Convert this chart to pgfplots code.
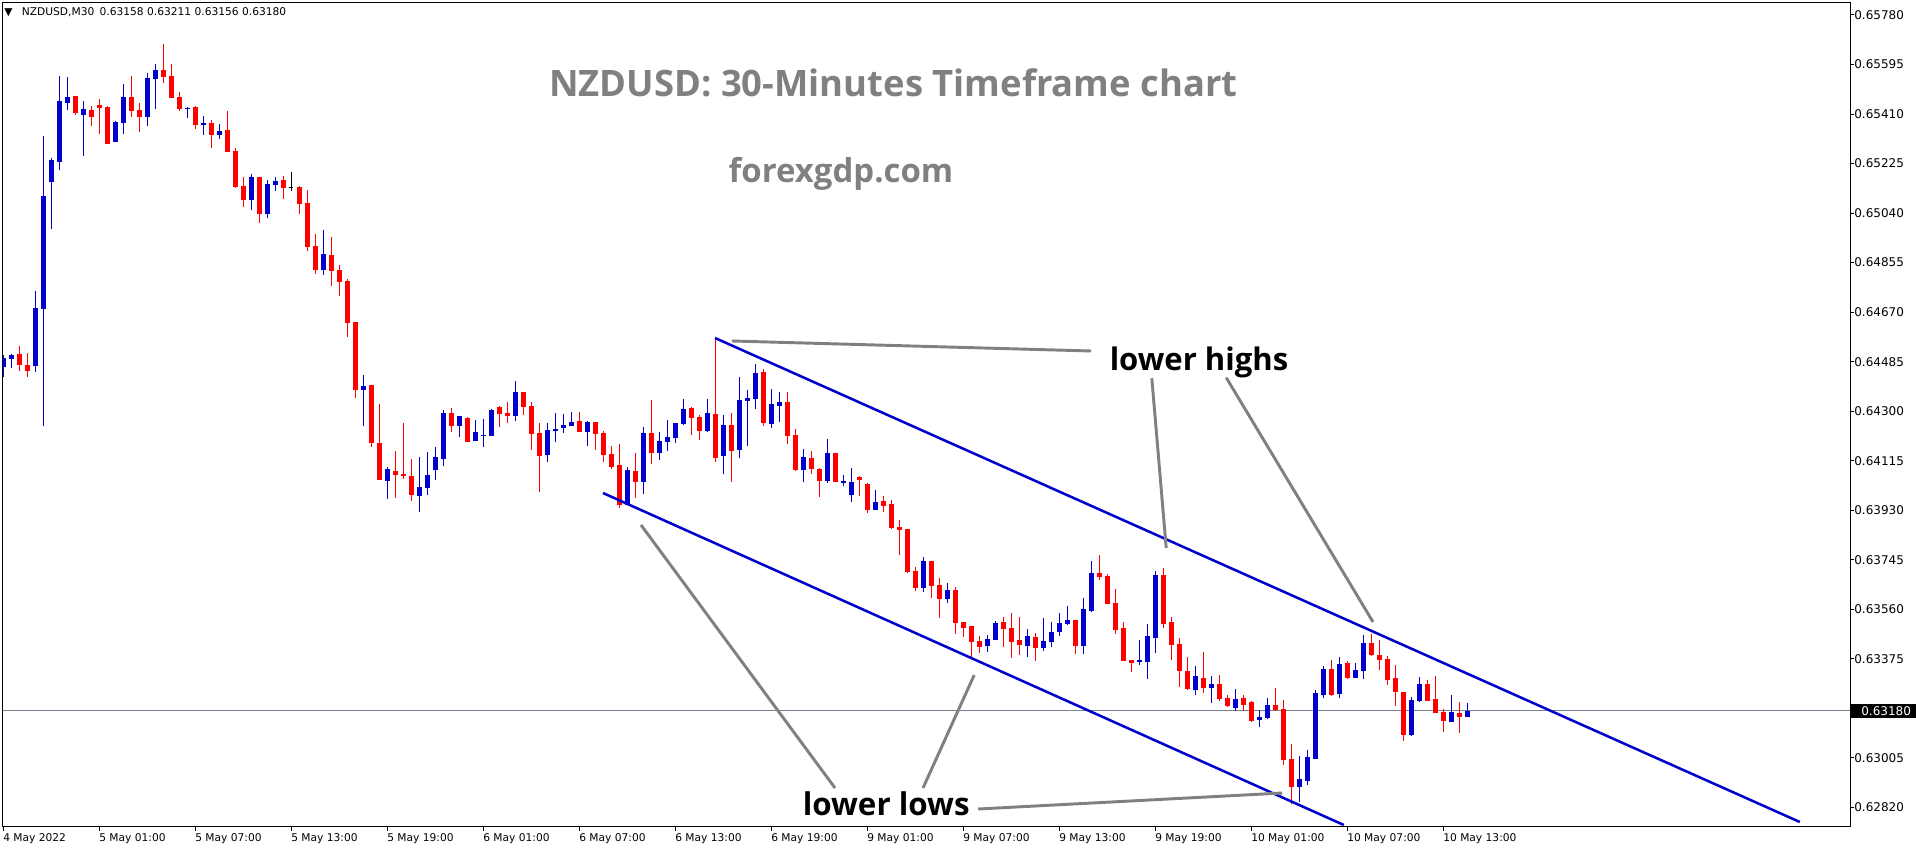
\documentclass[border=0pt]{standalone}
\usepackage{pgfplots}
\pgfplotsset{compat=1.18}
\usepackage{pgfplotstable}
\usepackage{fontspec}
\setmainfont{DejaVu Sans}
\newfontfamily\annfont{Open Sans}
\definecolor{mtblue}{RGB}{0,0,205}
\definecolor{mtred}{RGB}{255,0,0}
\definecolor{anngray}{RGB}{128,128,128}
\definecolor{lvl}{RGB}{120,130,145}

% NZDUSD M30 candles: index, open, high, low, close
\pgfplotstableread{
i o h l c
0 0.64464 0.64510 0.64427 0.64498
1 0.64496 0.64514 0.64463 0.64509
2 0.64514 0.64544 0.64451 0.64474
3 0.64473 0.64519 0.64429 0.64451
4 0.64470 0.64749 0.64448 0.64686
5 0.64681 0.65328 0.64246 0.65104
6 0.65157 0.65246 0.64982 0.65238
7 0.65232 0.65552 0.65202 0.65459
8 0.65453 0.65548 0.65425 0.65474
9 0.65477 0.65477 0.65408 0.65415
10 0.65408 0.65459 0.65255 0.65429
11 0.65425 0.65440 0.65367 0.65400
12 0.65444 0.65466 0.65337 0.65434
13 0.65436 0.65439 0.65299 0.65299
14 0.65307 0.65384 0.65307 0.65380
15 0.65378 0.65522 0.65337 0.65474
16 0.65474 0.65552 0.65400 0.65423
17 0.65425 0.65451 0.65344 0.65400
18 0.65400 0.65563 0.65367 0.65545
19 0.65542 0.65597 0.65430 0.65575
20 0.65575 0.65672 0.65527 0.65550
21 0.65552 0.65597 0.65471 0.65471
22 0.65474 0.65492 0.65423 0.65430
23 0.65430 0.65436 0.65397 0.65434
24 0.65436 0.65440 0.65355 0.65370
25 0.65370 0.65403 0.65333 0.65377
26 0.65377 0.65388 0.65284 0.65333
27 0.65333 0.65373 0.65318 0.65347
28 0.65350 0.65421 0.65270 0.65270
29 0.65272 0.65283 0.65135 0.65139
30 0.65141 0.65175 0.65064 0.65090
31 0.65090 0.65186 0.65053 0.65175
32 0.65175 0.65175 0.65004 0.65038
33 0.65038 0.65164 0.65023 0.65149
34 0.65146 0.65175 0.65124 0.65160
35 0.65164 0.65179 0.65094 0.65135
36 0.65137 0.65194 0.65124 0.65137
37 0.65137 0.65141 0.65038 0.65075
38 0.65078 0.65126 0.64900 0.64915
39 0.64917 0.64963 0.64814 0.64829
40 0.64827 0.64977 0.64809 0.64887
41 0.64883 0.64951 0.64768 0.64824
42 0.64827 0.64846 0.64730 0.64783
43 0.64786 0.64794 0.64577 0.64629
44 0.64633 0.64633 0.64351 0.64379
45 0.64379 0.64435 0.64245 0.64394
46 0.64398 0.64398 0.64166 0.64181
47 0.64181 0.64327 0.64043 0.64043
48 0.64039 0.64092 0.63972 0.64084
49 0.64077 0.64151 0.63976 0.64062
50 0.64065 0.64256 0.64047 0.64058
51 0.64058 0.64121 0.63964 0.63987
52 0.63983 0.64129 0.63923 0.64017
53 0.64013 0.64147 0.63987 0.64062
54 0.64080 0.64166 0.64043 0.64129
55 0.64121 0.64304 0.64095 0.64293
56 0.64293 0.64312 0.64222 0.64245
57 0.64245 0.64282 0.64204 0.64282
58 0.64275 0.64278 0.64185 0.64185
59 0.64189 0.64267 0.64189 0.64222
60 0.64207 0.64271 0.64166 0.64211
61 0.64207 0.64308 0.64207 0.64304
62 0.64316 0.64319 0.64241 0.64289
63 0.64293 0.64334 0.64256 0.64282
64 0.64282 0.64413 0.64263 0.64372
65 0.64372 0.64372 0.64286 0.64316
66 0.64319 0.64334 0.64155 0.64215
67 0.64219 0.64256 0.63998 0.64133
68 0.64136 0.64256 0.64110 0.64230
69 0.64226 0.64293 0.64185 0.64233
70 0.64237 0.64289 0.64219 0.64248
71 0.64245 0.64297 0.64245 0.64260
72 0.64263 0.64297 0.64222 0.64222
73 0.64222 0.64263 0.64170 0.64260
74 0.64260 0.64260 0.64155 0.64215
75 0.64219 0.64226 0.64110 0.64136
76 0.64140 0.64170 0.64084 0.64092
77 0.64099 0.64177 0.63938 0.63950
78 0.63950 0.64092 0.63950 0.64080
79 0.64077 0.64144 0.63976 0.64035
80 0.64035 0.64241 0.63991 0.64219
81 0.64219 0.64342 0.64103 0.64144
82 0.64144 0.64222 0.64118 0.64189
83 0.64185 0.64267 0.64151 0.64204
84 0.64200 0.64256 0.64181 0.64256
85 0.64252 0.64346 0.64248 0.64308
86 0.64312 0.64315 0.64211 0.64275
87 0.64278 0.64286 0.64192 0.64226
88 0.64226 0.64346 0.64222 0.64293
89 0.64290 0.64573 0.64110 0.64125
90 0.64133 0.64286 0.64065 0.64248
91 0.64248 0.64293 0.64035 0.64151
92 0.64155 0.64428 0.64125 0.64342
93 0.64338 0.64379 0.64170 0.64349
94 0.64346 0.64476 0.64308 0.64443
95 0.64446 0.64458 0.64244 0.64256
96 0.64252 0.64383 0.64237 0.64327
97 0.64319 0.64372 0.64260 0.64334
98 0.64334 0.64372 0.64177 0.64207
99 0.64211 0.64233 0.64077 0.64080
100 0.64080 0.64159 0.64035 0.64129
101 0.64125 0.64151 0.64065 0.64084
102 0.64084 0.64088 0.63979 0.64039
103 0.64039 0.64196 0.64032 0.64144
104 0.64144 0.64144 0.64035 0.64035
105 0.64032 0.64062 0.64021 0.64039
106 0.63987 0.64088 0.63961 0.64035
107 0.64054 0.64058 0.63983 0.64043
108 0.64028 0.64032 0.63920 0.63931
109 0.63931 0.64006 0.63931 0.63961
110 0.63965 0.63983 0.63923 0.63946
111 0.63953 0.63968 0.63860 0.63864
112 0.63867 0.63894 0.63763 0.63856
113 0.63860 0.63860 0.63696 0.63699
114 0.63703 0.63718 0.63628 0.63639
115 0.63639 0.63755 0.63625 0.63740
116 0.63740 0.63740 0.63602 0.63647
117 0.63651 0.63677 0.63527 0.63598
118 0.63598 0.63658 0.63583 0.63632
119 0.63632 0.63643 0.63468 0.63509
120 0.63512 0.63512 0.63456 0.63490
121 0.63498 0.63498 0.63378 0.63438
122 0.63441 0.63460 0.63397 0.63419
123 0.63423 0.63464 0.63400 0.63449
124 0.63445 0.63516 0.63445 0.63509
125 0.63512 0.63531 0.63419 0.63486
126 0.63490 0.63546 0.63378 0.63438
127 0.63445 0.63531 0.63389 0.63427
128 0.63423 0.63486 0.63382 0.63460
129 0.63456 0.63471 0.63367 0.63415
130 0.63415 0.63527 0.63404 0.63441
131 0.63438 0.63512 0.63419 0.63475
132 0.63475 0.63546 0.63460 0.63509
133 0.63505 0.63572 0.63501 0.63520
134 0.63520 0.63520 0.63393 0.63423
135 0.63423 0.63602 0.63393 0.63561
136 0.63553 0.63740 0.63550 0.63696
137 0.63696 0.63763 0.63669 0.63681
138 0.63684 0.63692 0.63580 0.63580
139 0.63583 0.63636 0.63468 0.63483
140 0.63490 0.63512 0.63367 0.63367
141 0.63370 0.63370 0.63326 0.63359
142 0.63363 0.63445 0.63352 0.63370
143 0.63363 0.63505 0.63300 0.63460
144 0.63453 0.63703 0.63397 0.63688
145 0.63688 0.63714 0.63490 0.63505
146 0.63512 0.63531 0.63370 0.63427
147 0.63430 0.63453 0.63270 0.63329
148 0.63329 0.63382 0.63258 0.63262
149 0.63258 0.63348 0.63240 0.63311
150 0.63303 0.63400 0.63247 0.63266
151 0.63266 0.63311 0.63210 0.63281
152 0.63281 0.63314 0.63217 0.63225
153 0.63229 0.63240 0.63195 0.63199
154 0.63191 0.63262 0.63180 0.63225
155 0.63229 0.63240 0.63180 0.63202
156 0.63214 0.63217 0.63139 0.63143
157 0.63146 0.63184 0.63120 0.63158
158 0.63154 0.63229 0.63150 0.63202
159 0.63202 0.63266 0.63180 0.63184
160 0.63187 0.63221 0.62978 0.62997
161 0.63001 0.63057 0.62833 0.62896
162 0.62896 0.63012 0.62840 0.62926
163 0.62919 0.63034 0.62904 0.63008
164 0.63001 0.63258 0.63001 0.63247
165 0.63240 0.63348 0.63229 0.63337
166 0.63337 0.63370 0.63236 0.63240
167 0.63243 0.63382 0.63229 0.63355
168 0.63359 0.63367 0.63299 0.63303
169 0.63303 0.63359 0.63303 0.63333
170 0.63329 0.63464 0.63299 0.63434
171 0.63434 0.63468 0.63385 0.63389
172 0.63389 0.63445 0.63333 0.63370
173 0.63374 0.63385 0.63277 0.63296
174 0.63303 0.63352 0.63199 0.63251
175 0.63251 0.63251 0.63068 0.63090
176 0.63090 0.63232 0.63087 0.63221
177 0.63217 0.63307 0.63214 0.63281
178 0.63281 0.63296 0.63217 0.63217
179 0.63225 0.63311 0.63173 0.63173
180 0.63176 0.63187 0.63102 0.63143
181 0.63139 0.63240 0.63139 0.63176
182 0.63173 0.63214 0.63098 0.63158
183 0.63158 0.63211 0.63156 0.63180
}\candles

\begin{document}
\begin{tikzpicture}
\useasboundingbox (-1.875pt,-17.625pt) rectangle (1435.125pt,619.875pt);
\begin{axis}[
  at={(0,0)}, anchor=south west,
  scale only axis,
  width=1385.625pt, height=618pt,
  xmin=-0.0625, xmax=230.875,
  ymin=0.627485, ymax=0.658267,
  axis line style={line width=0.75pt},
  tick style={black, line width=0.75pt},
  tick align=outside,
  major tick length=3pt,
  xtick pos=bottom, ytick pos=right,
  yticklabel pos=right,
  xtick={0,12,...,180},
  xticklabels={4 May 2022, 5 May 01:00, 5 May 07:00, 5 May 13:00, 5 May 19:00,
    6 May 01:00, 6 May 07:00, 6 May 13:00, 6 May 19:00, 9 May 01:00,
    9 May 07:00, 9 May 13:00, 9 May 19:00, 10 May 01:00, 10 May 07:00, 10 May 13:00},
  ytick={0.62820,0.63005,0.63375,0.63560,0.63745,0.63930,0.64115,0.64300,
    0.64485,0.64670,0.64855,0.65040,0.65225,0.65410,0.65595,0.65780},
  yticklabels={0.62820,0.63005,0.63375,0.63560,0.63745,0.63930,0.64115,0.64300,
    0.64485,0.64670,0.64855,0.65040,0.65225,0.65410,0.65595,0.65780},
  xticklabel style={anchor=north west, inner sep=0pt, yshift=-2pt, font=\fontsize{8}{9.6}\selectfont},
  yticklabel style={anchor=west, inner sep=0pt, font=\fontsize{9}{10.5}\selectfont},
]

% current price level
\addplot[lvl, line width=0.75pt] coordinates {(-0.0625,0.63180) (230.875,0.63180)};

% bullish candles
\addplot[mtblue, line width=0.75pt, quiver={u=0, v=\thisrow{h}-\thisrow{l}},
  restrict expr to domain={\thisrow{c}-\thisrow{o}}{0.000001:1}]
  table[x=i, y=l] {\candles};
\addplot[mtblue, line width=3.75pt, quiver={u=0, v=\thisrow{c}-\thisrow{o}},
  restrict expr to domain={\thisrow{c}-\thisrow{o}}{0.000001:1}]
  table[x=i, y=o] {\candles};
% bearish candles
\addplot[mtred, line width=0.75pt, quiver={u=0, v=\thisrow{h}-\thisrow{l}},
  restrict expr to domain={\thisrow{c}-\thisrow{o}}{-1:-0.000001}]
  table[x=i, y=l] {\candles};
\addplot[mtred, line width=3.75pt, quiver={u=0, v=\thisrow{c}-\thisrow{o}},
  restrict expr to domain={\thisrow{c}-\thisrow{o}}{-1:-0.000001}]
  table[x=i, y=o] {\candles};
% doji
\addplot[black, line width=0.75pt, quiver={u=0, v=\thisrow{h}-\thisrow{l}},
  restrict expr to domain={\thisrow{c}-\thisrow{o}}{-0.000001:0.000001}]
  table[x=i, y=l] {\candles};
\addplot[black, line width=0.75pt, quiver={u=0.6, v=0},
  restrict expr to domain={\thisrow{c}-\thisrow{o}}{-0.000001:0.000001}]
  table[x expr=\thisrow{i}-0.3, y=o] {\candles};

% channel
\addplot[mtblue, line width=1.9pt] coordinates {(89.0,0.645734) (224.6,0.627653)};
\addplot[mtblue, line width=1.9pt] coordinates {(75.0,0.639943) (167.6,0.627541)};

% pointers
\addplot[anngray, line width=2.2pt] coordinates {(91.1,0.645622) (136.0,0.645248)};
\addplot[anngray, line width=2.2pt] coordinates {(143.6,0.644229) (145.4,0.637889)};
\addplot[anngray, line width=2.2pt] coordinates {(152.9,0.644254) (171.25,0.635125)};
\addplot[anngray, line width=2.2pt] coordinates {(104.0,0.628923) (79.75,0.638748)};
\addplot[anngray, line width=2.2pt] coordinates {(115.0,0.628923) (121.4,0.633144)};
\addplot[anngray, line width=2.2pt] coordinates {(121.9,0.628139) (159.9,0.628736)};

\node[font=\annfont\bfseries\fontsize{27.3}{31}\selectfont, text=anngray]
  at (axis cs:111.3,0.65526) {NZDUSD: 30-Minutes Timeframe chart};
\node[font=\annfont\bfseries\fontsize{24.7}{28}\selectfont, text=anngray]
  at (axis cs:104.75,0.65186) {forexgdp.com};
\node[font=\annfont\bfseries\fontsize{23.3}{27}\selectfont]
  at (axis cs:149.5,0.644837) {lower highs};
\node[font=\annfont\bfseries\fontsize{23.5}{27}\selectfont]
  at (axis cs:110.4,0.628326) {lower lows};

\node[anchor=west, inner sep=0pt, font=\fontsize{8}{9.6}\selectfont, xshift=1.2pt, yshift=-7pt]
  at (rel axis cs:0,1) {▼\hspace{7pt}NZDUSD,M30\enspace 0.63158 0.63211 0.63156 0.63180};

\coordinate (hl) at (axis cs:230.875,0.63180);
\end{axis}
\node[anchor=west, fill=black, text=white, inner xsep=8.25pt, inner ysep=1.5pt,
  font=\fontsize{9}{10.5}\selectfont] at (hl) {0.63180};
\end{tikzpicture}
\end{document}
